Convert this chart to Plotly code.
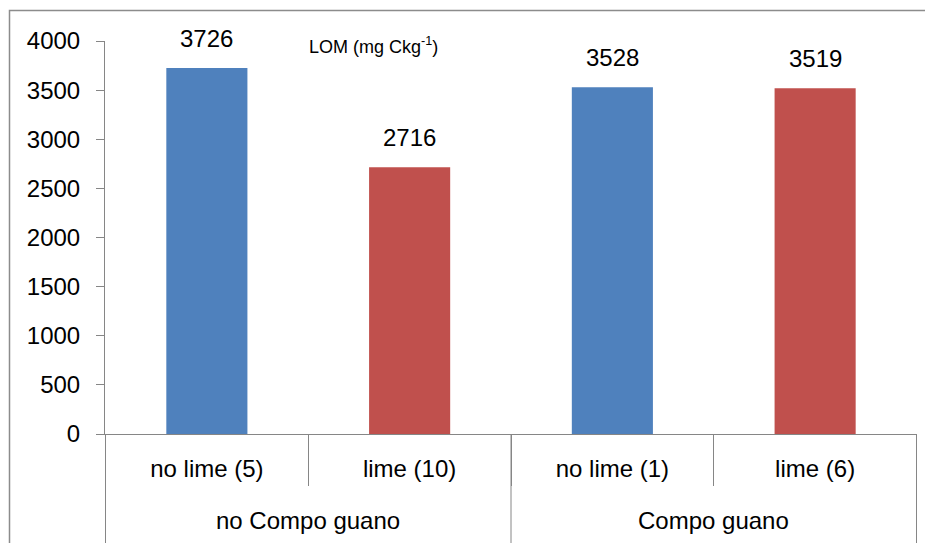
import plotly.graph_objects as go

# ---- data ----
groups = ["no Compo guano", "no Compo guano", "Compo guano", "Compo guano"]
categories = ["no lime (5)", "lime (10)", "no lime (1)", "lime (6)"]
values = [3726, 2716, 3528, 3519]
lime = [False, True, False, True]
y_ticks = [0, 500, 1000, 1500, 2000, 2500, 3000, 3500, 4000]
title_text = "LOM (mg Ckg<sup>-1</sup>)"

# ---- layout constants (page has an 8px body margin) ----
OFF = 8
W, H = 925, 535
ML, MR, MT, MB = 97, 16, 33, 109
PW, PH = W - ML - MR, H - MT - MB
FONT = "Liberation Sans"
GREY = "#868686"
BLUE = "#4F81BD"
RED = "#C0504D"

def px_x(px):
    # px given in page coordinates
    return (px - OFF - ML) / PW

def px_y(py):
    return (H - MB - (py - OFF)) / PH

fig = go.Figure()
for is_lime, color in [(False, BLUE), (True, RED)]:
    xs = [c for c, l in zip(categories, lime) if l == is_lime]
    ys = [v for v, l in zip(values, lime) if l == is_lime]
    fig.add_trace(go.Bar(x=xs, y=ys, marker=dict(color=color, line=dict(width=0)),
                         width=0.4, showlegend=False, hoverinfo="x+y"))

annotations = []
for c, v in zip(categories, values):
    annotations.append(dict(x=c, y=v, xref="x", yref="y", text=str(v), showarrow=False,
                            yanchor="bottom", yshift=14,
                            font=dict(family=FONT, size=24, color="black")))

# group labels
seen = []
for g in groups:
    if g not in seen:
        seen.append(g)
for g in seen:
    idx = [i for i, gg in enumerate(groups) if gg == g]
    annotations.append(dict(x=sum(idx) / len(idx), y=px_y(520), xref="x", yref="paper",
                            text=g, showarrow=False, yanchor="middle",
                            font=dict(family=FONT, size=24, color="black")))

annotations.append(dict(x=px_x(307), y=px_y(46), xref="paper", yref="paper",
                        text=title_text, showarrow=False, xanchor="left", yanchor="middle",
                        font=dict(family=FONT, size=18, color="black")))

shapes = []
# group dividers
bounds = [-0.5]
for i in range(1, len(groups)):
    if groups[i] != groups[i - 1]:
        bounds.append(i - 0.5)
bounds.append(len(groups) - 0.5)
for b in bounds:
    shapes.append(dict(type="line", xref="x", yref="paper", x0=b, x1=b, y0=0, y1=px_y(560),
                       line=dict(color=GREY, width=1)))
# chart border
shapes.append(dict(type="rect", xref="paper", yref="paper", x0=px_x(9.5), x1=px_x(960),
                   y0=px_y(600), y1=px_y(10.5), line=dict(color="#8c8c8c", width=1.5)))

fig.update_layout(
    width=W, height=H, autosize=False,
    margin=dict(l=ML, r=MR, t=MT, b=MB),
    paper_bgcolor="white", plot_bgcolor="white",
    barmode="overlay",
    font=dict(family=FONT, size=24, color="black"),
    annotations=annotations, shapes=shapes,
    xaxis=dict(type="category", categoryorder="array", categoryarray=categories,
               showline=True, linecolor=GREY, linewidth=1, showgrid=False,
               ticks="outside", tickson="boundaries", ticklen=51, tickcolor=GREY,
               tickwidth=1, ticklabelstandoff=13,
               tickfont=dict(family=FONT, size=24, color="black")),
    yaxis=dict(range=[0, 4000], tickvals=y_ticks, showline=True, linecolor=GREY, linewidth=1,
               showgrid=False, zeroline=False, ticks="outside", ticklen=8, tickcolor=GREY,
               tickwidth=1, ticklabelstandoff=11,
               tickfont=dict(family=FONT, size=24, color="black")),
)

fig.write_html("out.html")
